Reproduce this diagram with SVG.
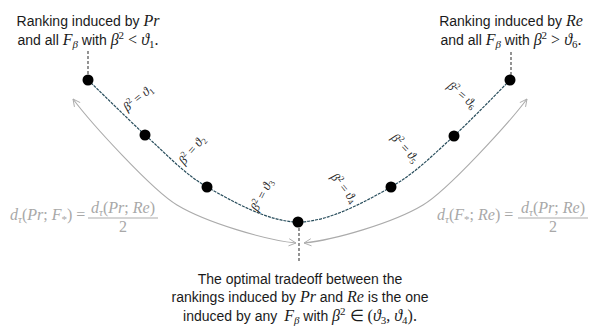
<svg xmlns="http://www.w3.org/2000/svg" width="598" height="336" viewBox="0 0 598 336">
<style>
.t{font-family:"Liberation Sans",Arial,sans-serif;font-size:14px;fill:#1a1a1a}
.m{font-family:"Liberation Serif","Times New Roman",serif;font-style:italic;font-size:16px}
.mr{font-family:"Liberation Serif","Times New Roman",serif;font-style:normal;font-size:16px}
.ms{font-family:"Liberation Serif","Times New Roman",serif;font-style:italic;font-size:11px}
.mn{font-family:"Liberation Serif","Times New Roman",serif;font-style:normal;font-size:11px}
.lbl{font-family:"Liberation Serif","Times New Roman",serif;font-size:12.5px;fill:#262626}
.g{fill:#a8a8a8}
.node{fill:#000}
.vd{stroke:#4d4d4d;stroke-width:1.2;stroke-dasharray:3 2;fill:none}
.arc{stroke:#ababab;stroke-width:1.1;fill:none;marker-start:url(#ah);marker-end:url(#ah)}
.curve{stroke:#284d5c;stroke-width:1.2;stroke-dasharray:3 1;fill:none}
</style>
<defs>
<marker id="ah" viewBox="0 0 10 10" refX="9" refY="5" markerWidth="9" markerHeight="9" markerUnits="userSpaceOnUse" orient="auto-start-reverse">
<path d="M1,1 L9,5 L1,9" fill="none" stroke="#ababab" stroke-width="1"/>
</marker>
</defs>

<g id="connectors">
<path class="curve" d="M88,80 C97.5,89 125,116.2 145,135 C165,152.3 182,172.3 207,187 C233,201.7 269,222 298,222 C329,222 365.8,201.3 391,187 C416.2,172.7 434,153.8 454,136 C473,118.2 501,89.3 510,80"/>
<line class="vd" x1="88" y1="51" x2="88" y2="75"/>
<line class="vd" x1="511" y1="52" x2="511" y2="75"/>
<line class="vd" x1="299" y1="228" x2="299" y2="263"/>
<path class="arc" d="M73,99 C91,123 152,190 177,205 C207,223 266,240 296,243"/>
<path class="arc" d="M527,99 C509,123 448,190 423,205 C393,223 334,240 304,243"/>
</g>

<g id="n1"><circle class="node" cx="88" cy="80" r="5.5"/></g>
<g id="n2"><circle class="node" cx="145" cy="135" r="5.5"/></g>
<g id="n3"><circle class="node" cx="207" cy="187" r="5.5"/></g>
<g id="n4"><circle class="node" cx="298" cy="222" r="5.5"/></g>
<g id="n5"><circle class="node" cx="391" cy="187" r="5.5"/></g>
<g id="n6"><circle class="node" cx="454" cy="136" r="5.5"/></g>
<g id="n7"><circle class="node" cx="510" cy="80" r="5.5"/></g>

<g id="labels">
<text class="lbl" transform="translate(138,98) rotate(-39)" text-anchor="middle" y="4"><tspan font-style="italic">β</tspan><tspan font-size="8.5" dy="-5">2</tspan><tspan dy="5" dx="3">=</tspan><tspan font-style="italic" dx="3">ϑ</tspan><tspan font-size="8.5" dy="2.5">1</tspan></text>
<text class="lbl" transform="translate(192,150) rotate(-50)" text-anchor="middle" y="4"><tspan font-style="italic">β</tspan><tspan font-size="8.5" dy="-5">2</tspan><tspan dy="5" dx="3">=</tspan><tspan font-style="italic" dx="3">ϑ</tspan><tspan font-size="8.5" dy="2.5">2</tspan></text>
<text class="lbl" transform="translate(262,195) rotate(-63)" text-anchor="middle" y="4"><tspan font-style="italic">β</tspan><tspan font-size="8.5" dy="-5">2</tspan><tspan dy="5" dx="3">=</tspan><tspan font-style="italic" dx="3">ϑ</tspan><tspan font-size="8.5" dy="2.5">3</tspan></text>
<text class="lbl" transform="translate(344,188) rotate(51)" text-anchor="middle" y="4"><tspan font-style="italic">β</tspan><tspan font-size="8.5" dy="-5">2</tspan><tspan dy="5" dx="3">=</tspan><tspan font-style="italic" dx="3">ϑ</tspan><tspan font-size="8.5" dy="2.5">4</tspan></text>
<text class="lbl" transform="translate(405,148) rotate(47)" text-anchor="middle" y="4"><tspan font-style="italic">β</tspan><tspan font-size="8.5" dy="-5">2</tspan><tspan dy="5" dx="3">=</tspan><tspan font-style="italic" dx="3">ϑ</tspan><tspan font-size="8.5" dy="2.5">5</tspan></text>
<text class="lbl" transform="translate(462,95) rotate(40)" text-anchor="middle" y="4"><tspan font-style="italic">β</tspan><tspan font-size="8.5" dy="-5">2</tspan><tspan dy="5" dx="3">=</tspan><tspan font-style="italic" dx="3">ϑ</tspan><tspan font-size="8.5" dy="2.5">6</tspan></text>
</g>

<g id="top-left">
<text class="t" x="88" y="26" text-anchor="middle">Ranking induced by <tspan class="m">Pr</tspan></text>
<text class="t" x="88" y="45" text-anchor="middle">and all <tspan class="m">F</tspan><tspan class="ms" dy="3">β</tspan><tspan dy="-3"> with </tspan><tspan class="m">β</tspan><tspan class="mn" dy="-6">2</tspan><tspan class="mr" dy="6"> &lt; </tspan><tspan class="m">ϑ</tspan><tspan class="mn" dy="3">1</tspan><tspan class="mr" dy="-3">.</tspan></text>
</g>

<g id="top-right">
<text class="t" x="511" y="26" text-anchor="middle">Ranking induced by <tspan class="m">Re</tspan></text>
<text class="t" x="511" y="45" text-anchor="middle">and all <tspan class="m">F</tspan><tspan class="ms" dy="3">β</tspan><tspan dy="-3"> with </tspan><tspan class="m">β</tspan><tspan class="mn" dy="-6">2</tspan><tspan class="mr" dy="6"> &gt; </tspan><tspan class="m">ϑ</tspan><tspan class="mn" dy="3">6</tspan><tspan class="mr" dy="-3">.</tspan></text>
</g>

<g id="bottom">
<text class="t" x="300" y="284" text-anchor="middle">The optimal tradeoff between the</text>
<text class="t" x="300" y="302" text-anchor="middle">rankings induced by <tspan class="m">Pr</tspan> and <tspan class="m">Re</tspan> is the one</text>
<text class="t" x="300" y="321" text-anchor="middle">induced by any  <tspan class="m" dx="3">F</tspan><tspan class="ms" dy="3">β</tspan><tspan dy="-3"> with </tspan><tspan class="m">β</tspan><tspan class="mn" dy="-6">2</tspan><tspan class="mr" dy="6"> ∈ (</tspan><tspan class="m">ϑ</tspan><tspan class="mn" dy="3">3</tspan><tspan class="mr" dy="-3">, </tspan><tspan class="m">ϑ</tspan><tspan class="mn" dy="3">4</tspan><tspan class="mr" dy="-3">).</tspan></text>
</g>

<g id="formula-left" class="g">
<text x="10" y="220"><tspan class="m">d</tspan><tspan class="ms" dy="3">τ</tspan><tspan class="mr" dy="-3">(</tspan><tspan class="m">Pr</tspan><tspan class="mr">; </tspan><tspan class="m">F</tspan><tspan class="mn" dy="3">*</tspan><tspan class="mr" dy="-3">) = </tspan></text>
<text x="123" y="213" text-anchor="middle"><tspan class="m">d</tspan><tspan class="ms" dy="3">τ</tspan><tspan class="mr" dy="-3">(</tspan><tspan class="m">Pr</tspan><tspan class="mr">; </tspan><tspan class="m">Re</tspan><tspan class="mr">)</tspan></text>
<line x1="88" y1="218" x2="158" y2="218" stroke="#ababab" stroke-width="1"/>
<text x="123" y="232" text-anchor="middle" class="mr">2</text>
</g>

<g id="formula-right" class="g">
<text x="437" y="220"><tspan class="m">d</tspan><tspan class="ms" dy="3">τ</tspan><tspan class="mr" dy="-3">(</tspan><tspan class="m">F</tspan><tspan class="mn" dy="3">*</tspan><tspan class="mr" dy="-3">; </tspan><tspan class="m">Re</tspan><tspan class="mr">) = </tspan></text>
<text x="553" y="213" text-anchor="middle"><tspan class="m">d</tspan><tspan class="ms" dy="3">τ</tspan><tspan class="mr" dy="-3">(</tspan><tspan class="m">Pr</tspan><tspan class="mr">; </tspan><tspan class="m">Re</tspan><tspan class="mr">)</tspan></text>
<line x1="518" y1="218" x2="588" y2="218" stroke="#ababab" stroke-width="1"/>
<text x="553" y="232" text-anchor="middle" class="mr">2</text>
</g>
</svg>
